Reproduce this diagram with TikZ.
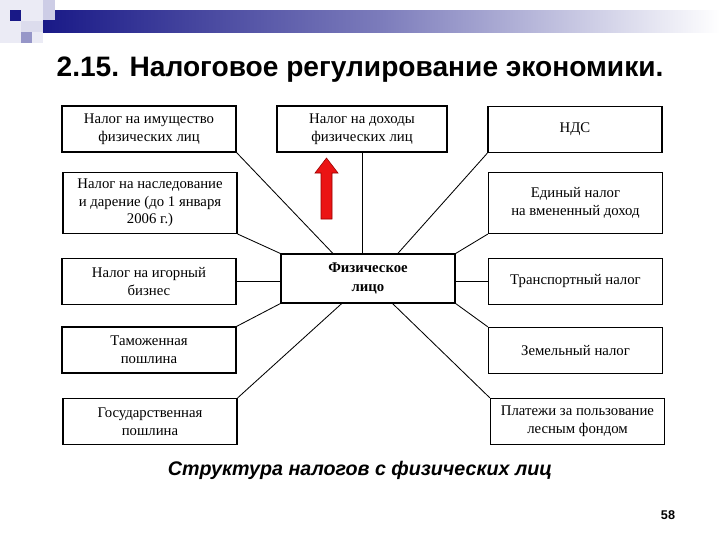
\documentclass[tikz,border=0pt]{standalone}
\usepackage{fontspec}
\setmainfont{Liberation Serif}
\newfontfamily\titlefont{Liberation Sans}
\definecolor{navy1}{RGB}{25, 25, 135}
\definecolor{lilac1}{RGB}{150, 150, 200}
\definecolor{lilac2}{RGB}{205, 205, 230}
\definecolor{red1}{RGB}{235, 20, 20}
\definecolor{red2}{RGB}{150, 0, 0}
\usetikzlibrary{shapes, arrows.meta, positioning, calc}

\tikzset{
  taxbox/.style={draw, line width=0.9pt, minimum width=4.35cm, minimum height=1.15cm, align=center, inner sep=2pt, font=\fontsize{10.5}{12.5}\selectfont},
  tallbox/.style={taxbox, minimum height=1.52cm},
  link/.style={line width=0.6pt}
}

\begin{document}
\begin{tikzpicture}[x=0.025cm, y=-0.025cm]
  \useasboundingbox (0, 0) rectangle (720, 540);

  % Header bar
  \fill[lilac2!40] (0, 0) rectangle (43, 43);
  \shade[left color=navy1, right color=white, middle color=navy1!45!lilac2] (43, 10) rectangle (720, 32);
  \fill[lilac2] (43, 0) rectangle (55, 20);
  \fill[lilac2!70] (21, 21) rectangle (43, 32);
  \fill[lilac1] (21, 32) rectangle (32, 43);
  \fill[navy1] (10, 10) rectangle (21, 21);

  % Title
  \node[font=\titlefont\bfseries\fontsize{20}{24}\selectfont] (title) at (360, 70) {2.15. Налоговое регулирование экономики.};

  % Left column
  \node[taxbox] (imush) at (149, 129) {Налог на имущество\\физических лиц};
  \node[tallbox] (nasl) at (150, 203) {Налог на наследование\\и дарение (до 1 января\\2006 г.)};
  \node[taxbox] (igor) at (149, 281.5) {Налог на игорный\\бизнес};
  \node[taxbox] (tamozh) at (149, 350) {Таможенная\\пошлина};
  \node[taxbox] (gosp) at (150, 421.5) {Государственная\\пошлина};

  % Middle
  \node[taxbox, minimum width=4.25cm] (ndfl) at (362, 129) {Налог на доходы\\физических лиц};
  \node[taxbox, minimum height=1.22cm, font=\bfseries\fontsize{10.5}{14}\selectfont] (fizl) at (368, 278.5) {Физическое\\лицо};

  % Right column
  \node[taxbox] (nds) at (575, 129.5) {НДС};
  \node[tallbox] (envd) at (575.5, 203) {Единый налог\\на вмененный доход};
  \node[taxbox] (transp) at (575.5, 281.5) {Транспортный налог};
  \node[taxbox] (zem) at (575.5, 350.5) {Земельный налог};
  \node[taxbox] (les) at (577.5, 421.5) {Платежи за пользование\\лесным фондом};

  % Connectors
  \draw[link] (imush.south east) -- ($(fizl.north west)!0.3!(fizl.north east)$);
  \draw[link] (nasl.south east) -- (fizl.north west);
  \draw[link] (igor.east) -- (igor.east -| fizl.west);
  \draw[link] (tamozh.north east) -- (fizl.south west);
  \draw[link] (gosp.north east) -- ($(fizl.south west)!0.35!(fizl.south east)$);
  \draw[link] (ndfl.south) -- (ndfl.south |- fizl.north);
  \draw[link] (nds.south west) -- ($(fizl.north west)!0.67!(fizl.north east)$);
  \draw[link] (envd.south west) -- (fizl.north east);
  \draw[link] (transp.west) -- (transp.west -| fizl.east);
  \draw[link] (zem.north west) -- (fizl.south east);
  \draw[link] (les.north west) -- ($(fizl.south west)!0.64!(fizl.south east)$);

  % Arrow
  \draw[red2, fill=red1, line width=0.4pt] (321, 219) -- (321, 173) -- (315, 173) -- (326.5, 158) -- (338, 173) -- (332, 173) -- (332, 219) -- cycle;

  % Caption
  \node[font=\titlefont\bfseries\itshape\fontsize{14}{17}\selectfont] (caption) at (360, 470) {Структура налогов с физических лиц};
  \node[font=\titlefont\bfseries\fontsize{9}{11}\selectfont] (pagenum) at (668, 515) {58};
\end{tikzpicture}
\end{document}
